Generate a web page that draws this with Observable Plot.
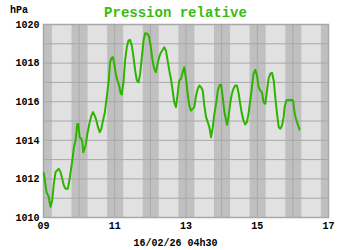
<!DOCTYPE html>
<html><head><meta charset="utf-8">
<script src="https://cdn.jsdelivr.net/npm/d3@7"></script>
<script src="https://cdn.jsdelivr.net/npm/@observablehq/plot@0.6"></script>
<style>html,body{margin:0;padding:0;background:#fff} svg{display:block}</style>
</head><body><div id="chart"></div>
<script>
const titleText = "Pression relative";
const unitText = "hPa";
const stampText = "16/02/26 04h30";

// time in decimal day-of-month (February)
const days = [9.01,9.085,9.141,9.197,9.245,9.29,9.338,9.386,9.431,9.479,9.527,9.572,9.62,9.685,9.741,9.808,9.854,9.901,9.949,9.977,
10.014,10.062,10.09,10.118,10.183,10.231,10.296,10.344,10.389,10.437,10.485,10.53,10.577,10.625,10.67,10.718,10.775,10.831,10.868,10.907,10.944,10.98,
11.028,11.076,11.121,11.169,11.197,11.245,11.29,11.338,11.386,11.431,11.479,11.527,11.572,11.62,11.668,11.713,11.761,11.808,11.854,11.921,11.966,
12.014,12.062,12.107,12.155,12.203,12.248,12.296,12.344,12.389,12.437,12.485,12.53,12.577,12.625,12.67,12.718,12.766,12.811,12.859,12.907,12.952,
13.0,13.048,13.093,13.141,13.189,13.234,13.282,13.33,13.375,13.423,13.47,13.515,13.563,13.611,13.656,13.704,13.752,13.797,13.845,13.893,13.938,13.986,
14.034,14.079,14.127,14.155,14.192,14.239,14.287,14.332,14.38,14.428,14.473,14.521,14.569,14.614,14.662,14.71,14.755,14.803,14.851,14.896,14.944,14.992,
15.037,15.085,15.132,15.177,15.225,15.273,15.318,15.366,15.414,15.462,15.507,15.555,15.603,15.648,15.696,15.741,15.769,15.817,15.865,15.91,15.958,
16.006,16.051,16.099,16.146,16.19];
const pressure = [1012.3,1011.3,1011.1,1010.55,1010.9,1011.75,1012.35,1012.45,1012.52,1012.35,1012.0,1011.66,1011.49,1011.49,1012.09,1012.95,1013.64,1014.0,1014.85,1014.85,
1014.16,1014.08,1013.9,1013.38,1013.73,1014.34,1014.94,1015.28,1015.46,1015.28,1015.03,1014.68,1014.42,1014.6,1015.03,1015.4,1016.23,1017.1,1018.05,1018.25,1018.31,1018.05,
1017.45,1017.1,1016.84,1016.41,1016.37,1017.01,1018.13,1018.82,1019.17,1019.2,1018.91,1018.31,1017.62,1017.1,1017.01,1017.45,1018.31,1019.17,1019.55,1019.52,1019.34,
1018.82,1018.13,1017.7,1017.53,1017.96,1018.31,1018.55,1018.68,1018.82,1018.65,1018.13,1017.62,1017.19,1016.58,1015.97,1015.72,1016.41,1017.1,1017.19,1017.53,1017.79,
1017.19,1016.41,1015.8,1015.54,1015.63,1015.72,1016.32,1016.67,1016.84,1016.75,1016.58,1015.8,1015.2,1014.94,1014.68,1014.16,1014.68,1015.37,1015.89,1016.58,1016.84,1016.88,
1016.2,1015.45,1015.03,1014.8,1015.2,1015.89,1016.41,1016.67,1016.84,1016.84,1016.49,1015.89,1015.37,1015.03,1014.82,1014.94,1015.37,1016.06,1016.75,1017.45,1017.65,1017.36,
1016.75,1016.58,1016.49,1015.97,1015.89,1016.58,1017.19,1017.45,1017.5,1017.1,1016.23,1015.37,1014.68,1014.6,1014.77,1015.2,1015.72,1016.06,1016.1,1016.06,1016.1,
1016.06,1015.37,1015.03,1014.77,1014.55];

const xTicks = [9, 11, 13, 15, 17];
const xTickLabels = ["09", "11", "13", "15", "17"];
const yTicks = [1010, 1012, 1014, 1016, 1018, 1020];
const yTickLabels = ["1010", "1012", "1014", "1016", "1018", "1020"];
const gridDays = [9, 10, 11, 12, 13, 14, 15, 16, 17];
const gridHpa = [1010, 1011, 1012, 1013, 1014, 1015, 1016, 1017, 1018, 1019, 1020];
// night periods (sunset -> sunrise), decimal days
const nightStart = [8.8, 9.8, 10.8, 11.8, 12.8, 13.8, 14.8, 15.8, 16.8];
const nightEnd = [9.25, 10.25, 11.25, 12.25, 13.25, 14.25, 15.25, 16.25, 17.25];

const data = days.map((d, i) => ({day: d, p: pressure[i]}));
const nights = nightStart.map((s, i) => ({s, e: nightEnd[i]}));
const fmtX = d => xTickLabels[xTicks.indexOf(d)];
const fmtY = d => yTickLabels[yTicks.indexOf(d)];

const plot = Plot.plot({
  width: 350, height: 250,
  marginLeft: 43, marginRight: 22, marginTop: 24, marginBottom: 33,
  style: {fontFamily: "'Liberation Mono', 'Courier New', monospace", fontSize: "10px", fontWeight: "bold", color: "#000", background: "#fff"},
  x: {domain: [9, 17], ticks: xTicks, tickFormat: fmtX, tickSize: 0, tickPadding: 4, label: null},
  y: {domain: [1010, 1020], ticks: yTicks, tickFormat: fmtY, tickSize: 0, tickPadding: 4, label: null},
  marks: [
    Plot.frame({fill: "#e1e1e1"}),
    Plot.rect(nights, {x1: "s", x2: "e", fill: "#c0c0c0", clip: true}),
    Plot.ruleX(gridDays, {stroke: "#a8a8a8", strokeWidth: 1}),
    Plot.ruleY(gridHpa, {stroke: "#a8a8a8", strokeWidth: 1}),
    Plot.frame({stroke: "#a8a8a8", strokeWidth: 1.5}),
    Plot.line(data, {x: "day", y: "p", stroke: "#2eb400", strokeWidth: 2}),
    Plot.axisX({ticks: xTicks, tickFormat: fmtX, tickSize: 0, tickPadding: 4, label: null}),
    Plot.axisY({ticks: yTicks, tickFormat: fmtY, tickSize: 0, tickPadding: 4, label: null}),
    Plot.text([titleText], {text: d => d, frameAnchor: "top", dx: -10.5, dy: -17, fill: "#38bb10", fontSize: 14, fontWeight: "bold"}),
    Plot.text([unitText], {text: d => d, frameAnchor: "top-left", dx: -24.5, dy: -18.5, textAnchor: "middle", fill: "#000", fontSize: 10, fontWeight: "bold"}),
    Plot.text([stampText], {text: d => d, frameAnchor: "bottom", dx: -10.5, dy: 28, fill: "#000", fontSize: 10, fontWeight: "bold"})
  ]
});
document.getElementById("chart").appendChild(plot);
</script>
</body></html>
